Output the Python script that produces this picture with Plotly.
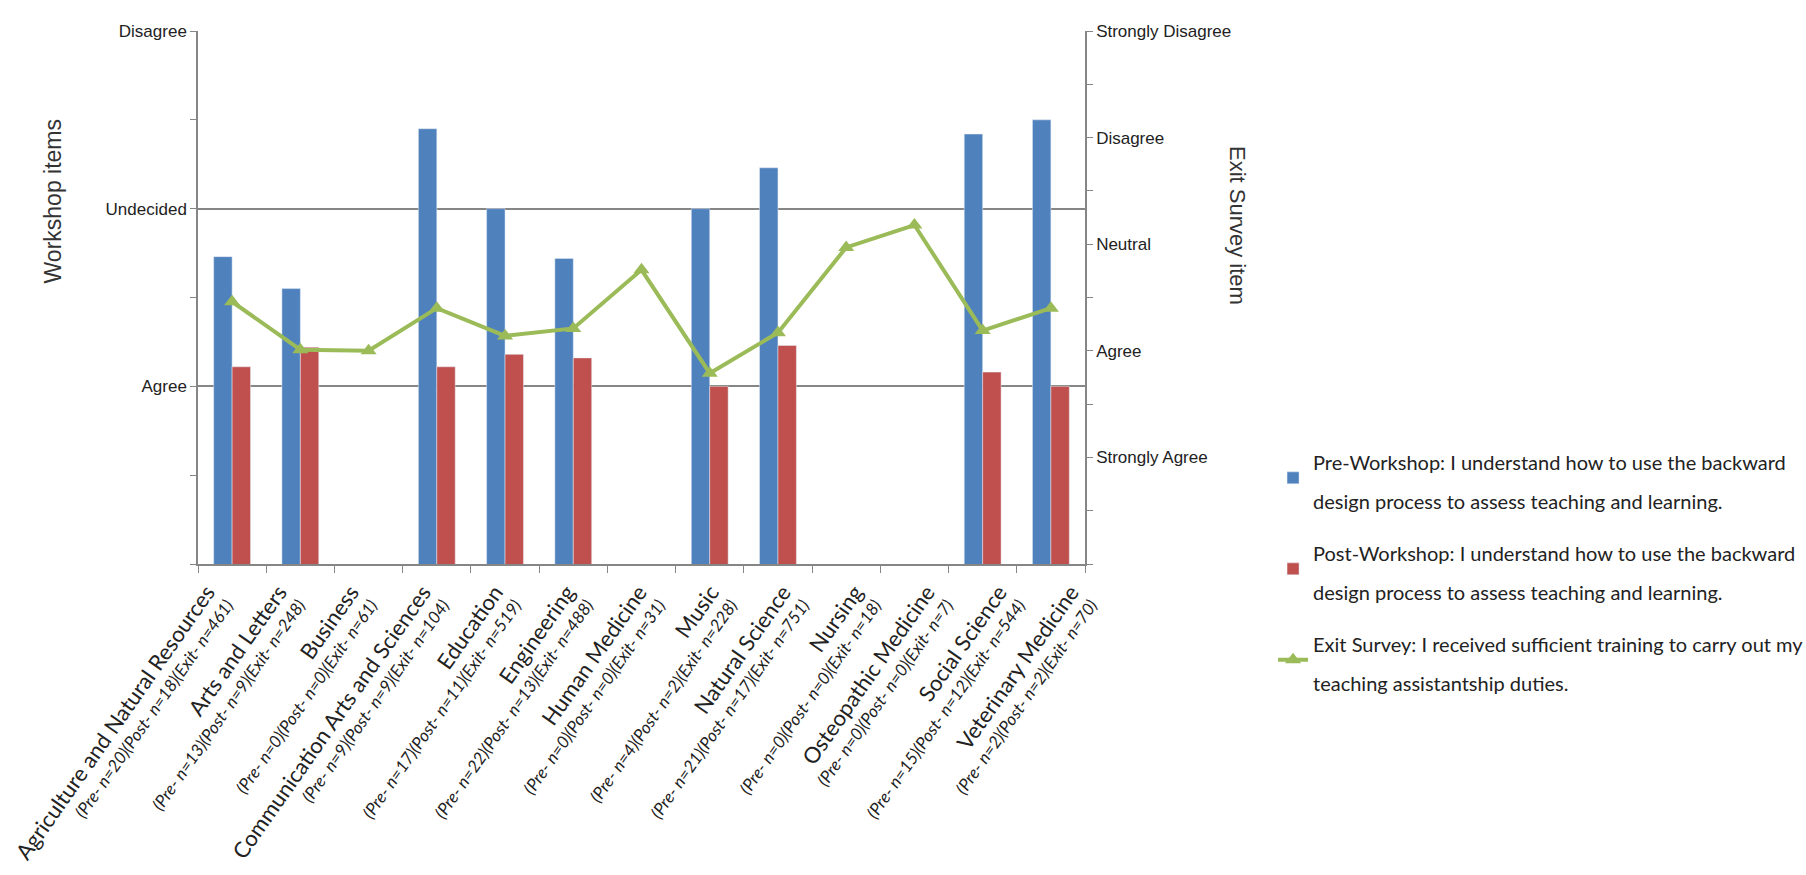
import plotly.graph_objects as go

# Colleges (main label) and sample sizes (sub label)
colleges = [
    "Agriculture and Natural Resources", "Arts and Letters", "Business",
    "Communication Arts and Sciences", "Education", "Engineering",
    "Human Medicine", "Music", "Natural Science", "Nursing",
    "Osteopathic Medicine", "Social Science", "Veterinary Medicine",
]
sample_sizes = [
    "(Pre- n=20)(Post- n=18)(Exit- n=461)",
    "(Pre- n=13)(Post- n=9)(Exit- n=248)",
    "(Pre- n=0)(Post- n=0)(Exit- n=61)",
    "(Pre- n=9)(Post- n=9)(Exit- n=104)",
    "(Pre- n=17)(Post- n=11)(Exit- n=519)",
    "(Pre- n=22)(Post- n=13)(Exit- n=488)",
    "(Pre- n=0)(Post- n=0)(Exit- n=31)",
    "(Pre- n=4)(Post- n=2)(Exit- n=228)",
    "(Pre- n=21)(Post- n=17)(Exit- n=751)",
    "(Pre- n=0)(Post- n=0)(Exit- n=18)",
    "(Pre- n=0)(Post- n=0)(Exit- n=7)",
    "(Pre- n=15)(Post- n=12)(Exit- n=544)",
    "(Pre- n=2)(Post- n=2)(Exit- n=70)",
]

# Workshop items: 1 = Strongly Agree ... 4 = Disagree
pre_workshop = [2.73, 2.55, None, 3.45, 3.00, 2.72, None, 3.00, 3.23, None, None, 3.42, 3.50]
post_workshop = [2.11, 2.22, None, 2.11, 2.18, 2.16, None, 2.00, 2.23, None, None, 2.08, 2.00]
# Exit survey item: 1 = Strongly Agree ... 5 = Strongly Disagree
exit_survey = [2.46, 2.01, 2.00, 2.40, 2.14, 2.21, 2.76, 1.79, 2.17, 2.97, 3.18, 2.19, 2.40]

left_tickvals = [1, 2, 3, 4]
left_ticktext = ["", "Agree", "Undecided", "Disagree"]
right_tickvals = [0, 1, 2, 3, 4, 5]
right_ticktext = ["", "Strongly Agree", "Agree", "Neutral", "Disagree", "Strongly Disagree"]

legend_pre = ["Pre-Workshop: I understand how to use the backward",
              "design process to assess teaching and learning."]
legend_post = ["Post-Workshop: I understand how to use the backward",
               "design process to assess teaching and learning."]
legend_exit = ["Exit Survey: I received sufficient training to carry out my",
               "teaching assistantship duties."]

BLUE = "#4F81BD"
RED = "#C0504D"
GREEN = "#9BBB59"
GRID = "#868686"
AXIS_FONT = "Liberation Sans, Arial, sans-serif"
BODY_FONT = "Lato, Calibri, Carlito, Open Sans, sans-serif"


def legend_text(lines):
    # wider line spacing than the default: the legend font sets the spacing,
    # each line carries the visible text size
    return "<br>".join(f"<span style='font-size:20px'>{ln}</span>" for ln in lines)


x_labels = [
    f"<span style='font-size:22px'>{c}</span><br><i>{s}</i>"
    for c, s in zip(colleges, sample_sizes)
]

fig = go.Figure()
fig.add_trace(go.Bar(
    x=x_labels, y=pre_workshop, name=legend_text(legend_pre), marker_color=BLUE,
    legendgroup="pre",
))
fig.add_trace(go.Bar(
    x=x_labels, y=post_workshop, name=legend_text(legend_post), marker_color=RED,
    legendgroup="post",
))
fig.add_trace(go.Scatter(
    x=x_labels, y=exit_survey, name=legend_text(legend_exit), yaxis="y2",
    mode="lines+markers", line=dict(color=GREEN, width=4),
    marker=dict(symbol="triangle-up", size=14, color=GREEN),
    legendgroup="exit",
))
# carrier for the category label axis (slightly wider label spacing)
fig.add_trace(go.Scatter(
    x=x_labels, y=[None] * len(x_labels), xaxis="x2", yaxis="y",
    mode="markers", showlegend=False, hoverinfo="skip",
))

fig.update_layout(
    width=1806, height=875,
    margin=dict(l=198, r=721, t=31, b=311, autoexpand=False),
    paper_bgcolor="white", plot_bgcolor="white",
    barmode="group", bargap=0.46, bargroupgap=0,
    font=dict(family=BODY_FONT, color="#222"),
    xaxis=dict(
        type="category", range=[-0.5, len(x_labels) - 0.5],
        tickson="boundaries", ticks="outside", ticklen=7, tickcolor=GRID,
        showticklabels=False,
        showline=True, linecolor=GRID, linewidth=1.5,
        showgrid=False, automargin=False,
    ),
    xaxis2=dict(
        type="category", overlaying="x", anchor="y", side="bottom",
        categoryorder="array", categoryarray=x_labels,
        range=[-0.153, 12.166], ticks="", showline=False, showgrid=False,
        tickangle=-55, ticklabelshift=0, ticklabelstandoff=14,
        tickfont=dict(family=BODY_FONT, size=17, color="#222"),
        automargin=False, zeroline=False,
    ),
    yaxis=dict(
        range=[1, 4], tickvals=left_tickvals, ticktext=left_ticktext,
        ticks="outside", ticklen=6, tickcolor=GRID,
        showline=True, linecolor=GRID, linewidth=1.5,
        showgrid=True, gridcolor=GRID, gridwidth=1.5,
        minor=dict(tickvals=[1.5, 2.5, 3.5], ticks="outside", ticklen=6,
                   tickcolor=GRID, showgrid=False),
        tickfont=dict(family=AXIS_FONT, size=17, color="#222"),
        automargin=False, zeroline=False,
    ),
    yaxis2=dict(
        range=[0, 5], overlaying="y", side="right",
        tickvals=right_tickvals, ticktext=right_ticktext,
        ticks="outside", ticklen=6, tickcolor=GRID,
        showline=True, linecolor=GRID, linewidth=1.5, showgrid=False,
        minor=dict(tickvals=[0.5, 1.5, 2.5, 3.5, 4.5], ticks="outside",
                   ticklen=6, tickcolor=GRID, showgrid=False),
        tickfont=dict(family=AXIS_FONT, size=17, color="#222"),
        automargin=False, zeroline=False,
    ),
    legend=dict(
        x=1.212, y=0.247, xanchor="left", yanchor="top",
        traceorder="grouped", tracegroupgap=10,
        font=dict(family=BODY_FONT, size=30, color="#222"),
        bgcolor="rgba(0,0,0,0)", itemwidth=30,
    ),
    showlegend=True,
    annotations=[
        dict(text="Workshop items", xref="paper", yref="paper",
             x=-0.163, y=0.681, xanchor="center", yanchor="middle",
             textangle=-90, showarrow=False,
             font=dict(family=AXIS_FONT, size=23, color="#333")),
        dict(text="Exit Survey item", xref="paper", yref="paper",
             x=1.1725, y=0.636, xanchor="center", yanchor="middle",
             textangle=90, showarrow=False,
             font=dict(family=AXIS_FONT, size=22, color="#333")),
    ],
)

fig.write_html("out.html")
